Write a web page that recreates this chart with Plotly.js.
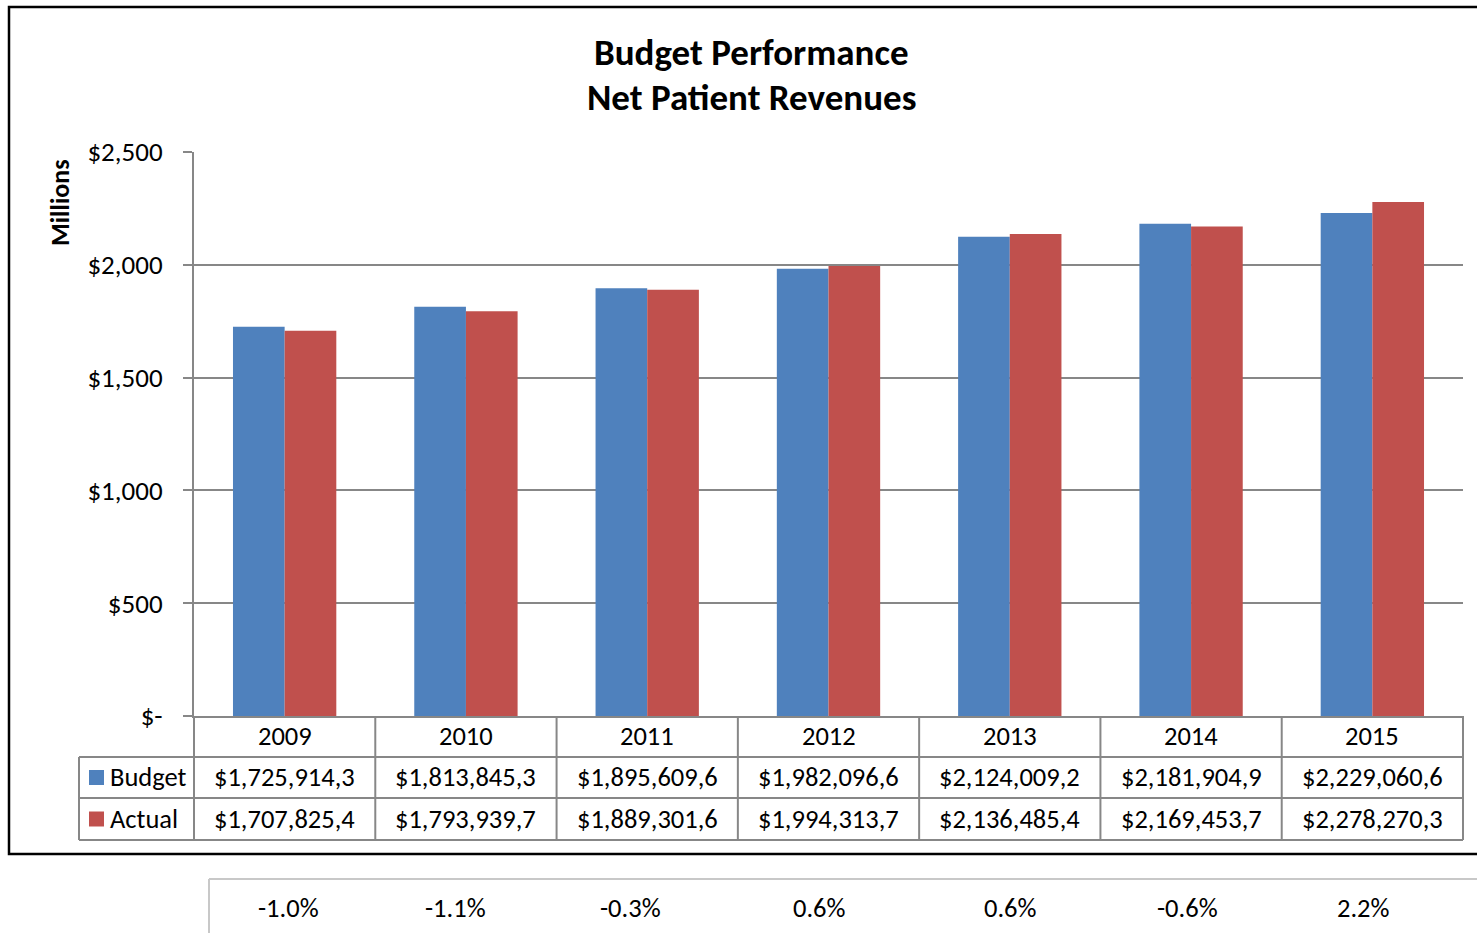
<!DOCTYPE html>
<html>
<head>
<meta charset="utf-8">
<script src="https://cdn.plot.ly/plotly-3.0.1.min.js"></script>
<style>html,body{margin:0;padding:0;background:#fff;}#chart{width:1477px;height:933px;}</style>
</head>
<body>
<div id="chart"></div>
<script>
// ---- data ----
const years = ["2009","2010","2011","2012","2013","2014","2015"];
const budgetThousands = [1725914.3, 1813845.3, 1895609.6, 1982096.6, 2124009.2, 2181904.9, 2229060.6];
const actualThousands = [1707825.4, 1793939.7, 1889301.6, 1994313.7, 2136485.4, 2169453.7, 2278270.3];
const budgetLabels = ["$1,725,914,3","$1,813,845,3","$1,895,609,6","$1,982,096,6","$2,124,009,2","$2,181,904,9","$2,229,060,6"];
const actualLabels = ["$1,707,825,4","$1,793,939,7","$1,889,301,6","$1,994,313,7","$2,136,485,4","$2,169,453,7","$2,278,270,3"];
const variancePct = ["-1.0%","-1.1%","-0.3%","0.6%","0.6%","-0.6%","2.2%"];
const yTickVals = [0, 500, 1000, 1500, 2000, 2500];
const yTickText = ["$-", "$500", "$1,000", "$1,500", "$2,000", "$2,500"];

const budgetM = budgetThousands.map(v => v / 1000);
const actualM = actualThousands.map(v => v / 1000);

// ---- layout geometry (pixels) ----
const W = 1477, H = 933;
const L = 194, R = 1463, T = 152, B = 716;
const FONT = "Carlito, Calibri, Lato, sans-serif";
const px = p => (p - L) / (R - L);
const py = p => (B - p) / (B - T);
const GRID = "#878787";
const BLUE = "#4F81BD", RED = "#C0504D";

const traces = [
  {type: "bar", name: "Budget", x: years, y: budgetM, marker: {color: BLUE, line: {width: 0}}, hoverinfo: "none"},
  {type: "bar", name: "Actual", x: years, y: actualM, marker: {color: RED, line: {width: 0}}, hoverinfo: "none"}
];

const shapes = [];
const annotations = [];
const line = (x0, y0, x1, y1, color, width) => shapes.push({type: "line", xref: "paper", yref: "paper",
  x0: px(x0), y0: py(y0), x1: px(x1), y1: py(y1), line: {color: color, width: width}, layer: "above"});

// outer chart border
shapes.push({type: "rect", xref: "paper", yref: "paper", x0: px(9), y0: py(7), x1: px(1500), y1: py(854),
  line: {color: "#000", width: 2.5}, fillcolor: "rgba(0,0,0,0)"});

// data table grid
const rowTop = 716, row1 = 757, row2 = 798, row3 = 840, legL = 79;
line(L, row1, R, row1, GRID, 2);
line(legL, row1, L, row1, GRID, 2);
line(legL, row2, R, row2, GRID, 2);
line(legL, row3, R, row3, GRID, 2);
line(legL, row1, legL, row3, GRID, 2);
line(L, rowTop, L, row3, GRID, 2);
const n = years.length;
for (let i = 1; i <= n; i++) {
  const xp = i / n;
  shapes.push({type: "line", xref: "paper", yref: "paper", x0: xp, x1: xp, y0: py(rowTop), y1: py(row3),
    line: {color: GRID, width: 2}, layer: "above"});
}
const cellFont = {family: FONT, size: 26.5, color: "#000"};
years.forEach((yr, i) => {
  const xc = (i + 0.5) / n;
  annotations.push({xref: "paper", yref: "paper", x: xc, y: py((rowTop + row1) / 2 - 0.5), text: yr, showarrow: false, font: cellFont, xanchor: "center", yanchor: "middle"});
  annotations.push({xref: "paper", yref: "paper", x: xc, y: py((row1 + row2) / 2 - 0.5), text: budgetLabels[i], showarrow: false, font: cellFont, xanchor: "center", yanchor: "middle"});
  annotations.push({xref: "paper", yref: "paper", x: xc, y: py((row2 + row3) / 2 - 0.5), text: actualLabels[i], showarrow: false, font: cellFont, xanchor: "center", yanchor: "middle"});
});
// legend keys in table
[[BLUE, "Budget", (row1 + row2) / 2], [RED, "Actual", (row2 + row3) / 2]].forEach(([c, t, yc]) => {
  shapes.push({type: "rect", xref: "paper", yref: "paper", x0: px(89), x1: px(104), y0: py(yc - 7.5), y1: py(yc + 7.5),
    fillcolor: c, line: {width: 0}, layer: "above"});
  annotations.push({xref: "paper", yref: "paper", x: px(108), y: py(yc - 0.5), text: t, showarrow: false, font: cellFont, xanchor: "left", yanchor: "middle"});
});

// title
const titleFont = {family: FONT, size: 37, color: "#000"};
annotations.push({xref: "paper", yref: "paper", x: px(751), y: py(52), text: "<b>Budget Performance</b>",
  showarrow: false, font: titleFont, xanchor: "center", yanchor: "middle"});
annotations.push({xref: "paper", yref: "paper", x: px(751), y: py(97), text: "<b>Net Patient Revenues</b>",
  showarrow: false, font: titleFont, xanchor: "center", yanchor: "middle"});
// y title
annotations.push({xref: "paper", yref: "paper", x: px(60), y: py(203), text: "<b>Millions</b>", textangle: -90,
  showarrow: false, font: {family: FONT, size: 26, color: "#000"}, xanchor: "center", yanchor: "middle"});

// bottom variance strip
line(209, 879, 1500, 879, "#c8c8c8", 2);
line(209, 879, 209, 940, "#c8c8c8", 2);
const pctX = [288, 455, 630, 819, 1010, 1187, 1363];
variancePct.forEach((p, i) => {
  annotations.push({xref: "paper", yref: "paper", x: px(pctX[i]), y: py(908), text: p, showarrow: false,
    font: cellFont, xanchor: "center", yanchor: "middle"});
});

const layout = {
  width: W, height: H,
  margin: {l: L, r: W - R, t: T, b: H - B, pad: 0},
  paper_bgcolor: "#fff", plot_bgcolor: "#fff",
  showlegend: false,
  barmode: "group", bargap: 0.43, bargroupgap: 0,
  font: {family: FONT, size: 27, color: "#000"},
  xaxis: {type: "category", range: [-0.5, 6.5], showticklabels: false, showgrid: false, zeroline: false,
    showline: true, linecolor: GRID, linewidth: 2, ticks: "", fixedrange: true},
  yaxis: {range: [0, 2500], tickvals: yTickVals, ticktext: yTickText, showgrid: true, gridcolor: GRID, gridwidth: 2,
    zeroline: false, showline: true, linecolor: GRID, linewidth: 2, ticks: "outside", ticklen: 9, tickcolor: GRID,
    tickwidth: 2, ticklabelstandoff: 15, tickfont: {family: FONT, size: 27, color: "#000"}, fixedrange: true},
  shapes: shapes,
  annotations: annotations
};

Plotly.newPlot("chart", traces, layout, {staticPlot: true, displayModeBar: false});
</script>
</body>
</html>
